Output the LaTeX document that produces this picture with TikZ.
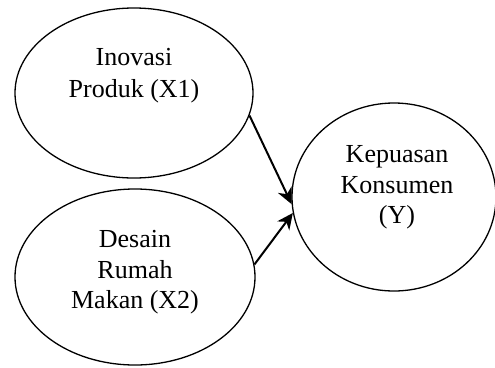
\documentclass[tikz,border=0pt]{standalone}
\usepackage{fontspec}
\setmainfont{Liberation Serif}
\usetikzlibrary{shapes.geometric,arrows.meta}
\begin{document}
\begin{tikzpicture}[x=1pt,y=-1pt,
  var/.style={ellipse,draw=black,line width=1.3pt,inner sep=0pt},
  lbl/.style={font=\fontsize{26}{31}\selectfont,inner sep=0pt,anchor=base},
  conn/.style={line width=2pt,-{Stealth[length=16pt,width=15pt,inset=5pt]}}]
\useasboundingbox (0,0) rectangle (495,367);
\node[var,minimum width=238pt,minimum height=170pt] (x1) at (134,93) {};
\node[var,minimum width=240pt,minimum height=176pt] (x2) at (135,277) {};
\node[var,minimum width=204pt,minimum height=188pt] (y) at (394,197) {};
\node[lbl] (t1) at (134,65) {Inovasi};
\node[lbl] (t2) at (134,97) {Produk (X1)};
\node[lbl] (t3) at (135,247) {Desain};
\node[lbl] (t4) at (135,278) {Rumah};
\node[lbl] (t5) at (135,308) {Makan (X2)};
\node[lbl] (t6) at (397,162) {Kepuasan};
\node[lbl] (t7) at (397,193) {Konsumen};
\node[lbl] (t8) at (397,223) {(Y)};
\draw[conn] (x1.-11.7) -- (y.184.5);
\draw[conn] (x2.6.2) -- (y.189.6);
\end{tikzpicture}
\end{document}
